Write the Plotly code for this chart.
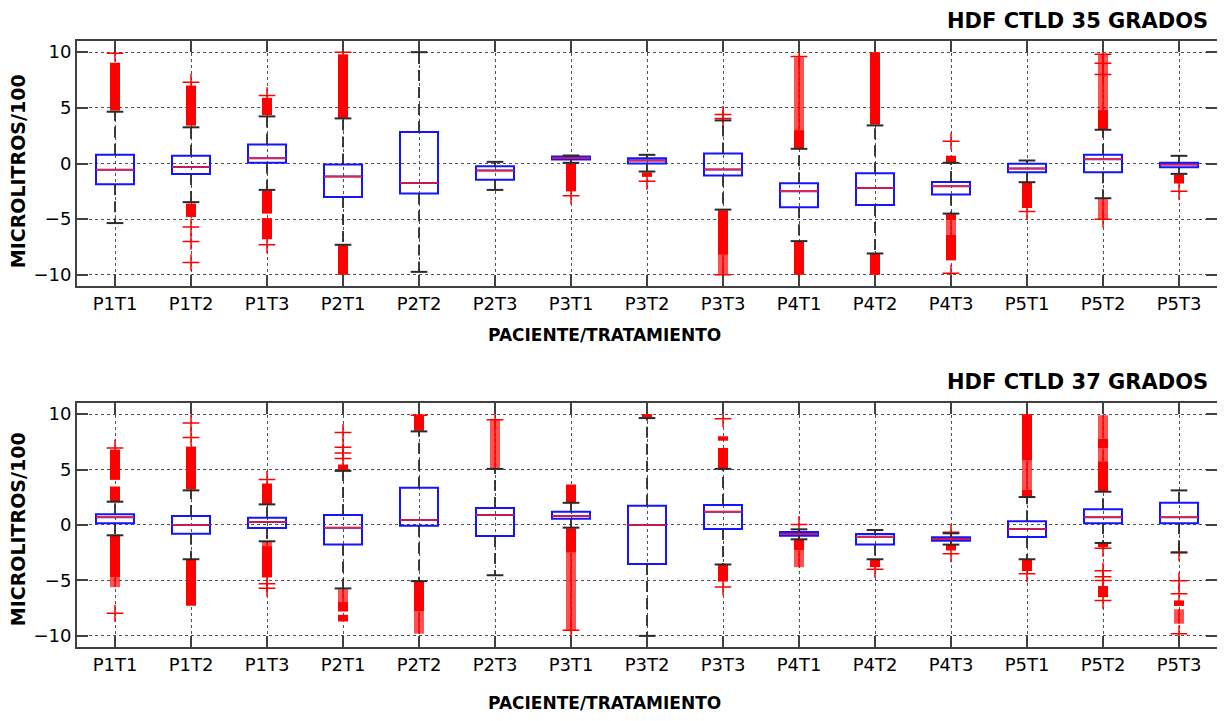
import plotly.graph_objects as go

cats = ["P1T1", "P1T2", "P1T3", "P2T1", "P2T2", "P2T3", "P3T1", "P3T2",
        "P3T3", "P4T1", "P4T2", "P4T3", "P5T1", "P5T2", "P5T3"]
pos = list(range(1, len(cats) + 1))

# ---------------- HDF CTLD 35 GRADOS ----------------
q1_35 = [-1.87, -0.95, 0.07, -3.0, -2.7, -1.47, 0.36, 0.0, -1.08, -3.93, -3.72, -2.79, -0.78, -0.78, -0.33]
med_35 = [-0.55, -0.32, 0.48, -1.17, -1.76, -0.63, 0.5, 0.27, -0.54, -2.49, -2.19, -2.04, -0.45, 0.39, -0.09]
q3_35 = [0.78, 0.69, 1.71, -0.09, 2.83, -0.24, 0.63, 0.48, 0.9, -1.77, -0.87, -1.65, -0.03, 0.78, 0.06]
lo_35 = [-5.35, -3.47, -2.37, -7.3, -9.73, -2.37, 0.06, -0.72, -4.14, -6.97, -8.08, -4.5, -1.68, -3.12, -0.93]
hi_35 = [4.65, 3.25, 4.23, 4.05, 10.0, 0.15, 0.72, 0.78, 3.87, 1.32, 3.42, 0.06, 0.27, 3.03, 0.69]
# dense outlier runs (category index, from, to)
solid_35 = [(0, 4.75, 9.05), (1, 3.4, 7.0), (1, -3.6, -4.8), (2, 4.35, 5.9), (2, -2.45, -4.5),
            (2, -4.9, -6.8), (3, 4.1, 9.8), (3, -7.35, -10.0), (6, 0.0, -2.5), (7, -0.8, -1.2),
            (8, -4.2, -8.2), (9, 1.35, 3.0), (9, -7.0, -10.0), (10, 3.5, 10.0), (10, -8.1, -10.0),
            (11, 0.1, 0.7), (11, -4.55, -5.1), (11, -6.4, -8.7), (12, -1.7, -4.0), (13, 3.1, 4.8),
            (14, -1.0, -1.8)]
sparse_run_35 = [(8, -8.2, -10.0), (9, 3.0, 9.55), (11, -5.1, -6.4), (13, 4.8, 9.8), (13, -3.2, -5.0)]
points_35 = [(0, 9.9), (1, 7.3), (1, -5.7), (1, -7.0), (1, -8.9), (2, 6.1), (2, -7.3), (3, 10.0),
             (6, -2.9), (7, -1.6), (8, 4.05), (8, 4.4), (8, -10.0), (9, 9.6), (11, 2.0), (11, -9.85),
             (12, -4.3), (13, 9.8), (13, 9.0), (13, 8.0), (13, -5.0), (14, -2.5)]

# ---------------- HDF CTLD 37 GRADOS ----------------
q1_37 = [0.16, -0.78, -0.27, -1.77, -0.06, -0.99, 0.57, -3.51, -0.36, -0.96, -1.77, -1.41, -1.08, 0.15, 0.15]
med_37 = [0.69, 0.0, 0.27, -0.24, 0.45, 0.9, 0.81, 0.0, 1.2, -0.81, -1.05, -1.26, -0.36, 0.69, 0.69]
q3_37 = [0.96, 0.81, 0.66, 0.9, 3.36, 1.53, 1.2, 1.74, 1.8, -0.63, -0.81, -1.11, 0.33, 1.41, 2.01]
lo_37 = [-0.93, -3.09, -1.47, -5.72, -5.06, -4.53, -0.24, -10.0, -3.56, -1.29, -3.09, -1.77, -3.09, -1.62, -2.46]
hi_37 = [2.1, 3.12, 1.86, 4.88, 8.44, 5.06, 2.0, 9.64, 5.06, -0.39, -0.45, -0.75, 2.52, 3.0, 3.12]
solid_37 = [(0, 2.16, 3.47), (0, 4.07, 6.8), (0, -0.95, -4.73), (1, 3.2, 7.07), (1, -3.1, -7.28),
            (2, 1.9, 3.74), (2, -1.9, -4.73), (3, 4.9, 5.45), (3, -6.9, -7.8), (3, -8.1, -8.7),
            (4, 8.5, 9.95), (4, -5.1, -7.8), (6, 2.05, 3.65), (6, -0.3, -2.5), (7, 9.7, 10.0),
            (8, 5.1, 6.95), (8, 7.6, 8.0), (8, -3.6, -5.1), (9, -1.3, -2.3), (10, -3.1, -3.8),
            (11, -1.8, -2.3), (12, 2.55, 3.2), (12, 5.8, 10.0), (12, -3.1, -4.15), (13, 3.05, 5.75),
            (13, 6.9, 7.8), (13, -1.65, -2.0), (13, -5.5, -6.5), (14, -6.8, -7.3)]
sparse_run_37 = [(0, -4.73, -5.6), (2, -1.5, -1.9), (3, -5.8, -6.9), (4, -7.8, -9.8), (5, 5.1, 9.5),
                 (6, -2.5, -9.5), (9, -2.3, -3.8), (12, 3.2, 5.8), (13, 5.75, 6.9), (13, 7.8, 9.9),
                 (14, -7.6, -8.9)]
points_37 = [(0, 6.95), (0, -7.96), (1, 7.9), (1, 9.2), (2, 4.1), (2, -5.3), (2, -5.7), (3, 6.0),
             (3, 6.5), (3, 7.0), (3, 8.35), (4, 9.9), (5, 9.5), (6, -9.5), (8, 9.58), (8, -5.6),
             (9, 0.05), (10, -4.0), (11, -0.66), (11, -2.6), (12, -4.4), (13, -2.1), (13, -4.13),
             (13, -4.67), (13, -5.0), (13, -6.8), (14, -2.5), (14, -5.03), (14, -6.2), (14, -9.8)]

titles = ["HDF CTLD 35 GRADOS", "HDF CTLD 37 GRADOS"]

BOX_W = 0.5
CAP_HW = 0.11
FONT = "DejaVu Sans"

fig = go.Figure()


def runs_xy(runs):
    xs, ys = [], []
    for c, a, b in runs:
        xs += [pos[c], pos[c], None]
        ys += [a, b, None]
    return xs, ys


def add_panel(xa, ya, q1, med, q3, lo, hi, solid, sparse, pts):
    common = dict(xaxis=xa, yaxis=ya, hoverinfo="skip", showlegend=False)
    xs, ys = runs_xy(sparse)
    fig.add_trace(go.Scatter(x=xs, y=ys, mode="lines",
                             line=dict(color="rgba(255,0,0,0.68)", width=10), **common))
    fig.add_trace(go.Scatter(x=xs, y=ys, mode="lines",
                             line=dict(color="rgb(255,0,0)", width=1.5), **common))
    xs, ys = runs_xy(solid)
    fig.add_trace(go.Scatter(x=xs, y=ys, mode="lines",
                             line=dict(color="rgb(255,0,0)", width=10), **common))
    fig.add_trace(go.Scatter(x=[pos[c] for c, v in pts], y=[v for c, v in pts], mode="markers",
                             marker=dict(symbol="cross-thin", size=12,
                                         line=dict(color="rgb(255,0,0)", width=1.5)), **common))
    # whiskers
    wx, wy = [], []
    for p, a, b, c, d in zip(pos, q3, hi, q1, lo):
        wx += [p, p, None, p, p, None]
        wy += [a, b, None, c, d, None]
    fig.add_trace(go.Scatter(x=wx, y=wy, mode="lines",
                             line=dict(color="#2a2a2a", width=1.8, dash="11px,6px"), **common))
    cx, cy = [], []
    for p, b, d in zip(pos, hi, lo):
        cx += [p - CAP_HW, p + CAP_HW, None, p - CAP_HW, p + CAP_HW, None]
        cy += [b, b, None, d, d, None]
    fig.add_trace(go.Scatter(x=cx, y=cy, mode="lines",
                             line=dict(color="#2a2a2a", width=2), **common))
    # boxes
    fig.add_trace(go.Box(x=pos, q1=q1, median=med, q3=q3, lowerfence=q1, upperfence=q3,
                         width=BOX_W, whiskerwidth=0, boxpoints=False,
                         line=dict(color="rgb(20,20,255)", width=2),
                         fillcolor="rgba(0,0,0,0)", **common))
    # medians
    mx, my = [], []
    for p, m in zip(pos, med):
        mx += [p - BOX_W / 2, p + BOX_W / 2, None]
        my += [m, m, None]
    fig.add_trace(go.Scatter(x=mx, y=my, mode="lines",
                             line=dict(color="rgb(255,30,30)", width=1.5), **common))


add_panel("x", "y", q1_35, med_35, q3_35, lo_35, hi_35, solid_35, sparse_run_35, points_35)
add_panel("x2", "y2", q1_37, med_37, q3_37, lo_37, hi_37, solid_37, sparse_run_37, points_37)

axcol = "#404040"
xcommon = dict(range=[0.5, 15.5], tickvals=pos, ticktext=cats, ticks="inside", ticklen=11,
               tickwidth=1.5, tickcolor=axcol, showline=True, linecolor=axcol, linewidth=2,
               mirror="ticks", showgrid=True, gridcolor="#505050", griddash="dot", gridwidth=1.3,
               zeroline=False, tickfont=dict(family=FONT, size=18, color="black"), domain=[0, 1])
ycommon = dict(range=[-11, 11], tickvals=[-10, -5, 0, 5, 10], ticks="inside", ticklen=11,
               tickwidth=1.5, tickcolor=axcol, showline=True, linecolor=axcol, linewidth=2,
               mirror="ticks", showgrid=True, gridcolor="#505050", griddash="dot", gridwidth=1.3,
               zeroline=False, tickfont=dict(family=FONT, size=18, color="black"))

fig.update_layout(
    width=1217, height=713,
    margin=dict(l=69, r=8, t=0, b=0),
    plot_bgcolor="white", paper_bgcolor="white",
    xaxis=dict(anchor="y", **xcommon),
    yaxis=dict(anchor="x", domain=[0.6101, 0.9537], **ycommon),
    xaxis2=dict(anchor="y2", **xcommon),
    yaxis2=dict(anchor="x2", domain=[0.1038, 0.4460], **ycommon),
)

bold = dict(family=FONT, size=17, color="black")
ann = []
for title, ty, tya, xy, yy in [(titles[0], 1.0, "top", 0.5414, 0.7714),
                               (titles[1], 0.4755, "middle", 0.0252, 0.2693)]:
    ann.append(dict(text="<b>" + title + "</b>", x=0.993, y=ty, xref="paper", yref="paper",
                    xanchor="right", yanchor=tya, showarrow=False, borderpad=0,
                    font=dict(family=FONT, size=21, color="black")))
    ann.append(dict(text="<b>PACIENTE/TRATAMIENTO</b>", x=0.463, y=xy, xref="paper", yref="paper",
                    xanchor="center", yanchor="middle", showarrow=False, font=bold))
    ann.append(dict(text="<b>MICROLITROS/100</b>", x=-0.0515, y=yy, xref="paper", yref="paper",
                    xanchor="center", yanchor="middle", textangle=-90, showarrow=False,
                    font=dict(family=FONT, size=19, color="black")))
fig.update_layout(annotations=ann)

fig.write_html("out.html")
